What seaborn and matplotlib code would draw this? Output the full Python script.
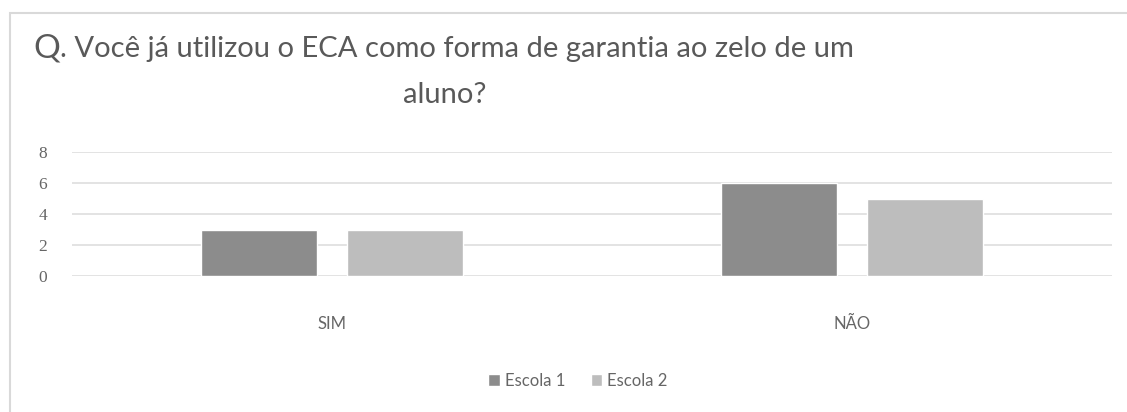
import matplotlib
matplotlib.use("Agg")
import matplotlib.pyplot as plt
import seaborn as sns
import pandas as pd
from matplotlib.patches import Rectangle

categories = ["SIM", "NÃO"]
escola_1 = [3, 6]
escola_2 = [3, 5]
series_names = ["Escola 1", "Escola 2"]
y_ticks = [0, 2, 4, 6, 8]

df = pd.DataFrame({
    "resposta": categories * 2,
    "valor": escola_1 + escola_2,
    "escola": [series_names[0]] * len(categories) + [series_names[1]] * len(categories),
})

sns.set_theme(style="white")
plt.rcParams["font.family"] = ["Lato", "DejaVu Sans"]

W, H = 1127, 412
fig = plt.figure(figsize=(W / 100, H / 100), dpi=100)
fig.patch.set_facecolor("white")

# light frame around the chart
fig.add_artist(Rectangle((10 / W, -0.05), 1.2, 1 - 13 / H + 0.05,
                         transform=fig.transFigure, fill=False,
                         edgecolor="#d9d9d9", linewidth=1.5))

ax = fig.add_axes([72 / W, 1 - 276 / H, 1040 / W, 124 / H])
sns.barplot(data=df, x="resposta", y="valor", hue="escola", order=categories,
            hue_order=series_names, palette=["#8c8c8c", "#bdbdbd"],
            width=0.56, gap=0.2, ax=ax, legend=True, zorder=3)

ax.set_ylim(0, 8)
ax.set_xlim(-0.5, 1.5)
ax.set_yticks(y_ticks)
ax.yaxis.grid(True, color="#e3e3e3", linewidth=1.4, zorder=0)
ax.set_axisbelow(True)
for s in ax.spines.values():
    s.set_visible(False)
ax.set_xlabel("")
ax.set_ylabel("")
ax.tick_params(axis="y", length=0, pad=18, labelcolor="#666666")
ax.tick_params(axis="x", length=0, pad=29, labelcolor="#666666", labelsize=12)
for lab in ax.get_yticklabels():
    lab.set_fontfamily("Liberation Serif")
    lab.set_fontsize(12.5)

handles, labels = ax.get_legend_handles_labels()
ax.legend_.remove()
fig.legend(handles, labels, loc="center", bbox_to_anchor=(578 / W, 1 - 381 / H),
           ncol=2, frameon=False, fontsize=12, handlelength=0.7, handleheight=0.7,
           handletextpad=0.3, columnspacing=1.5, labelcolor="#666666")

title_color = "#595959"
q = fig.text(33 / W, 1 - 57 / H, "Q", fontsize=24, color=title_color, va="baseline")
fig.canvas.draw()
q_right = q.get_window_extent().x1 / W
fig.text(q_right, 1 - 57 / H, ". Você já utilizou o ECA como forma de garantia ao zelo de um",
         fontsize=21, color=title_color, va="baseline")
fig.text(445 / W, 1 - 103 / H, "aluno?", fontsize=21, color=title_color,
         va="baseline", ha="center")

fig.savefig("out.png", dpi=100)
